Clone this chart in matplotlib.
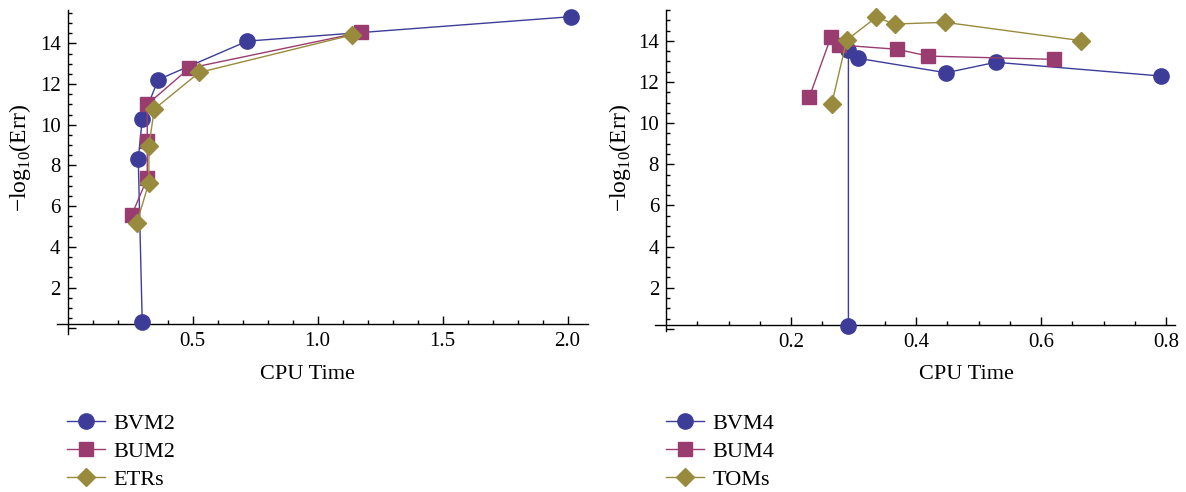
#Two panels: accuracy (-log10 of the error) against CPU time
#for the order-2 and order-4 methods, drawn in the Mathematica style
import matplotlib
matplotlib.use("Agg")
import matplotlib.pyplot as plt
import numpy as np

plt.rcParams['font.family'] = ['Liberation Serif', 'DejaVu Serif']
plt.rcParams['mathtext.fontset'] = 'custom'
plt.rcParams['mathtext.rm'] = 'Liberation Serif'
plt.rcParams['font.size'] = 15

#left panel, order 2 methods (cpu time, -log10 err)
bvm2_time = [0.299, 0.283, 0.299, 0.363, 0.719, 2.013]
bvm2_acc = [0.29, 8.31, 10.27, 12.22, 14.11, 15.31]
bum2_time = [0.257, 0.319, 0.319, 0.319, 0.487, 1.174]
bum2_acc = [5.56, 7.37, 9.20, 11.00, 12.78, 14.54]
etrs_time = [0.277, 0.325, 0.326, 0.347, 0.527, 1.137]
etrs_acc = [5.18, 7.12, 8.97, 10.77, 12.57, 14.41]

#right panel, order 4 methods
bvm4_time = [0.2917, 0.2917, 0.3077, 0.448, 0.5275, 0.792]
bvm4_acc = [0.15, 13.55, 13.15, 12.45, 12.96, 12.29]
bum4_time = [0.229, 0.2635, 0.277, 0.370, 0.4197, 0.621]
bum4_acc = [11.25, 14.17, 13.80, 13.59, 13.26, 13.10]
toms_time = [0.265, 0.289, 0.336, 0.366, 0.4464, 0.664]
toms_acc = [10.93, 14.04, 15.14, 14.82, 14.90, 14.01]

blue = '#3d3d99'
pink = '#993d71'
gold = '#998b3d'

W, H = 1186, 492
fig = plt.figure(figsize=(W / 100, H / 100), dpi=100)
ax1 = fig.add_axes([57 / W, 1 - 334 / H, 531 / W, 324 / H])
ax2 = fig.add_axes([655 / W, 1 - 331 / H, 520 / W, 321 / H])


def style_axes(ax, xlim, ylim, xmajor, xminor):
    ax.set_xlim(xlim)
    ax.set_ylim(ylim)
    ax.spines['top'].set_visible(False)
    ax.spines['right'].set_visible(False)
    ax.spines['left'].set_position(('data', 0))
    ax.spines['bottom'].set_position(('data', 0.2))
    for s in ['left', 'bottom']:
        ax.spines[s].set_linewidth(1.0)
        ax.spines[s].set_zorder(0.5)
    ax.set_xticks(xmajor)
    ax.set_xticks(xminor, minor=True)
    yticks = np.arange(0, 15, 2)
    ax.set_yticks(yticks)
    ax.set_yticklabels([''] + [str(v) for v in yticks[1:]])
    ax.set_yticks([v for v in np.arange(0.5, 15.6, 0.5) if v % 2 != 0], minor=True)
    ax.tick_params(which='both', direction='in', width=1.0)
    ax.tick_params(which='major', length=5.5)
    ax.tick_params(which='minor', length=3.2)
    ax.tick_params(axis='y', pad=5)
    ax.tick_params(axis='x', pad=6)
    ax.set_xlabel('CPU Time', fontsize=16)
    ax.set_ylabel('\u2212log$_{\\mathregular{10}}$(Err)', fontsize=17)


style_axes(ax1, (-0.042, 2.082), (-0.285, 15.64),
           [0.5, 1.0, 1.5, 2.0],
           [v for v in np.round(np.arange(0.1, 2.05, 0.1), 2) if v not in (0.5, 1.0, 1.5, 2.0)])
ax1.set_xticklabels(['0.5', '1.0', '1.5', '2.0'])
style_axes(ax2, (-0.0176, 0.814), (-0.1, 15.5),
           [0.2, 0.4, 0.6, 0.8],
           [v for v in np.round(np.arange(0.05, 0.81, 0.05), 2) if v not in (0.2, 0.4, 0.6, 0.8)])
ax2.set_xticklabels(['0.2', '0.4', '0.6', '0.8'])

ax1.xaxis.set_label_coords(0.4708, -0.1265)
ax1.yaxis.set_label_coords(-0.0697, 0.543)
ax2.xaxis.set_label_coords(0.598, -0.137)
ax2.yaxis.set_label_coords(-0.0673, 0.539)
for ax in (ax1, ax2):
    ax.xaxis.label.set_va('center')
    ax.yaxis.label.set_va('center')

lw = 1.0
ax1.plot(bvm2_time, bvm2_acc, color=blue, lw=lw, marker='o', ms=11, label='BVM2')
ax1.plot(bum2_time, bum2_acc, color=pink, lw=lw, marker='s', ms=10.5, label='BUM2')
ax1.plot(etrs_time, etrs_acc, color=gold, lw=lw, marker='D', ms=8.7, label='ETRs')

ax2.plot(bvm4_time, bvm4_acc, color=blue, lw=lw, marker='o', ms=11, label='BVM4')
ax2.plot(bum4_time, bum4_acc, color=pink, lw=lw, marker='s', ms=10.5, label='BUM4')
ax2.plot(toms_time, toms_acc, color=gold, lw=lw, marker='D', ms=8.7, label='TOMs')

for ax in (ax1, ax2):
    for ln in ax.get_lines():
        ln.set_clip_on(False)

leg_opts = dict(loc='upper left', bbox_transform=fig.transFigure, frameon=False,
                borderpad=0, borderaxespad=0, handlelength=1.7, handletextpad=0.4,
                labelspacing=0.35, numpoints=1, fontsize=16)
ax1.legend(bbox_to_anchor=(67 / W, 1 - 413 / H), **leg_opts)
ax2.legend(bbox_to_anchor=(666 / W, 1 - 413 / H), **leg_opts)

plt.savefig('out.png', dpi=100)
